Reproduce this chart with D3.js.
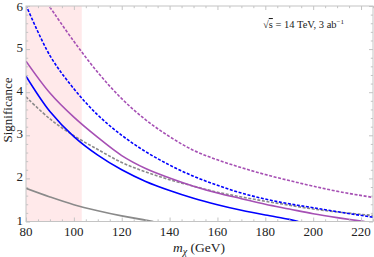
<!DOCTYPE html>
<html><head><meta charset="utf-8">
<script src="https://cdn.jsdelivr.net/npm/d3@7"></script>
<style>
html,body{margin:0;padding:0;background:#fff;}
svg{display:block;}
</style></head>
<body>
<svg id="chart" width="374" height="257"></svg>
<script>
// ---- data ----
const xTicks = [80, 100, 120, 140, 160, 180, 200, 220];
const yTicks = [1, 2, 3, 4, 5, 6];
const shadedRange = [80, 103.3];

const magentaDashedX = [88.8, 90, 100, 110, 120, 130, 140, 150, 160, 170, 180, 190, 200, 212, 225];
const magentaDashedY = [6.06, 5.97, 5.18, 4.46, 3.85, 3.36, 2.97, 2.65, 2.43, 2.25, 2.09, 1.95, 1.82, 1.68, 1.56];

const blueDashedX = [80, 90, 100, 110, 120, 130, 140, 150, 160, 170, 180, 190, 200, 212, 225];
const blueDashedY = [6.02, 4.85, 4.08, 3.47, 3.0, 2.62, 2.31, 2.05, 1.84, 1.66, 1.52, 1.41, 1.32, 1.21, 1.1];

const magentaSolidX = [80, 90, 100, 110, 120, 130, 140, 150, 160, 170, 180, 190, 200, 210, 221.5];
const magentaSolidY = [4.72, 3.98, 3.42, 2.95, 2.53, 2.23, 2.01, 1.82, 1.66, 1.53, 1.40, 1.29, 1.18, 1.09, 1.0];

const blueSolidX = [80, 90, 100, 110, 120, 130, 140, 150, 160, 170, 180, 190, 193.8];
const blueSolidY = [4.37, 3.55, 2.97, 2.54, 2.2, 1.93, 1.72, 1.54, 1.39, 1.26, 1.15, 1.05, 1.0];

const greyDashedX = [80, 90, 100, 110, 120, 130, 140, 150, 160, 170, 180, 190, 200, 212, 225];
const greyDashedY = [3.89, 3.38, 2.99, 2.67, 2.37, 2.15, 1.97, 1.82, 1.68, 1.57, 1.47, 1.38, 1.29, 1.21, 1.14];

const greySolidX = [80, 90, 100, 110, 120, 133.2];
const greySolidY = [1.77, 1.57, 1.39, 1.25, 1.13, 1.0];

const series = [
  {x: greySolidX, y: greySolidY, color: "#8a8a8a", dash: null},
  {x: greyDashedX, y: greyDashedY, color: "#8a8a8a", dash: "3,1.6"},
  {x: magentaSolidX, y: magentaSolidY, color: "#a650b4", dash: null},
  {x: magentaDashedX, y: magentaDashedY, color: "#a650b4", dash: "3,1.6"},
  {x: blueSolidX, y: blueSolidY, color: "#0000ff", dash: null},
  {x: blueDashedX, y: blueDashedY, color: "#0000ff", dash: "3,1.6"}
];

// ---- layout ----
const FONT = "'Liberation Serif', 'DejaVu Serif', 'Times New Roman', serif";
const W = 374, H = 257;
const m = {left: 26, right: 1, top: 6, bottom: 35.5};
const svg = d3.select("#chart").attr("font-family", FONT);
const x = d3.scaleLinear().domain([80, 225]).range([m.left, W - m.right]);
const y = d3.scaleLinear().domain([1, 6]).range([H - m.bottom, m.top]);

svg.append("defs").append("clipPath").attr("id", "clip")
  .append("rect").attr("x", m.left).attr("y", m.top)
  .attr("width", W - m.left - m.right).attr("height", H - m.top - m.bottom);

// shaded band
svg.append("rect")
  .attr("x", x(shadedRange[0])).attr("y", m.top)
  .attr("width", x(shadedRange[1]) - x(shadedRange[0]))
  .attr("height", H - m.top - m.bottom)
  .attr("fill", "#ffe9ea");

// curves
const g = svg.append("g").attr("clip-path", "url(#clip)");
const line = d3.line().x(d => x(d[0])).y(d => y(d[1])).curve(d3.curveCatmullRom.alpha(0.5));
series.forEach(s => {
  g.append("path")
    .datum(s.x.map((v, i) => [v, s.y[i]]))
    .attr("d", line)
    .attr("fill", "none")
    .attr("stroke", s.color)
    .attr("stroke-width", 1.6)
    .attr("stroke-dasharray", s.dash);
});

// frame
const frameColor = "#c4c4c4";
svg.append("rect")
  .attr("x", m.left).attr("y", m.top)
  .attr("width", W - m.left - m.right).attr("height", H - m.top - m.bottom)
  .attr("fill", "none").attr("stroke", frameColor).attr("stroke-width", 1);

const xMinor = d3.range(80, 226, 5).filter(v => !xTicks.includes(v));
const yMinor = d3.range(1, 6.001, 0.2).map(v => +v.toFixed(1)).filter(v => !yTicks.includes(v));

function tickAxes(axisFn, scale, major, minor, transform) {
  const a = svg.append("g").attr("transform", transform);
  a.call(axisFn(scale).tickValues(major).tickSize(-4).tickFormat(""));
  a.call(g2 => g2.select(".domain").remove());
  const b = svg.append("g").attr("transform", transform);
  b.call(axisFn(scale).tickValues(minor).tickSize(-2.2).tickFormat(""));
  b.call(g2 => g2.select(".domain").remove());
  svg.selectAll("g.tick line").attr("stroke", frameColor);
}
tickAxes(d3.axisBottom, x, xTicks, xMinor, `translate(0,${H - m.bottom})`);
tickAxes(d3.axisTop, x, xTicks, xMinor, `translate(0,${m.top})`);
tickAxes(d3.axisLeft, y, yTicks, yMinor, `translate(${m.left},0)`);
tickAxes(d3.axisRight, y, yTicks, yMinor, `translate(${W - m.right},0)`);

// tick labels
svg.append("g").selectAll("text").data(xTicks).join("text")
  .attr("x", d => x(d)).attr("y", 235.5)
  .attr("text-anchor", "middle").attr("font-size", 13).attr("fill", "#222")
  .text(d => d);
svg.append("g").selectAll("text").data(yTicks).join("text")
  .attr("x", 23).attr("y", d => Math.max(y(d) + 3, 11))
  .attr("text-anchor", "end").attr("font-size", 13).attr("fill", "#222")
  .text(d => d);

// axis titles
const xl = svg.append("text").attr("x", 199).attr("y", 251.5)
  .attr("text-anchor", "middle").attr("font-size", 13.5).attr("fill", "#222");
xl.append("tspan").attr("font-style", "italic").text("m");
xl.append("tspan").attr("font-style", "italic").attr("font-size", 10).attr("dy", 3).text("χ");
xl.append("tspan").attr("dy", -3).text(" (GeV)");

svg.append("text")
  .attr("transform", "translate(11.5,110) rotate(-90)")
  .attr("text-anchor", "middle").attr("font-size", 13).attr("fill", "#222")
  .text("Significance");

// annotation
const ann = svg.append("text").attr("x", 263).attr("y", 28)
  .attr("font-size", 10.5).attr("fill", "#222");
ann.append("tspan").text("√");
ann.append("tspan").attr("style", "text-decoration: overline").text("s");
ann.append("tspan").text(" = 14 TeV, 3 ab");
ann.append("tspan").attr("font-size", 7).attr("dy", -4).text("−1");
</script>
</body></html>
